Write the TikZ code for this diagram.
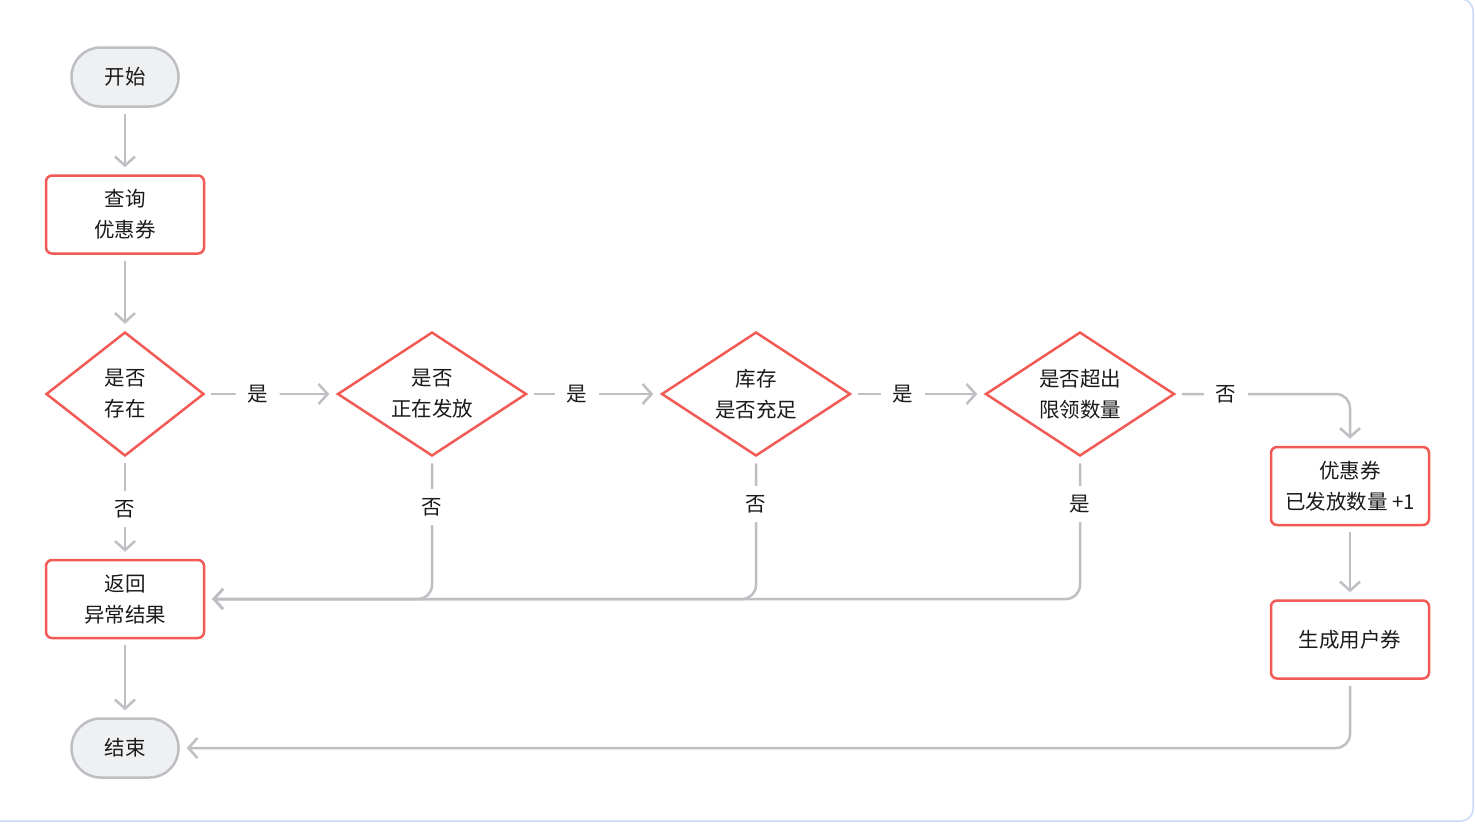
\documentclass[tikz,border=0pt]{standalone}
\usepackage{fontspec}
\setmainfont{Noto Sans CJK SC}
\usetikzlibrary{shapes.geometric,arrows.meta}
\definecolor{redline}{HTML}{F25A55}
\definecolor{grayline}{HTML}{BDBFC3}
\definecolor{termfill}{HTML}{EFF0F2}
\definecolor{txtcol}{HTML}{1A1A1A}
\definecolor{framecol}{HTML}{C9D8FA}
\begin{document}
\begin{tikzpicture}[x=1pt,y=-1pt,
  font=\fontsize{20.5}{31}\selectfont, text=txtcol,
  term/.style={draw=grayline, fill=termfill, line width=2.5pt, rounded corners=29pt, minimum width=107pt, minimum height=59pt, inner sep=0pt},
  proc/.style={draw=redline, line width=2.5pt, rounded corners=6pt, minimum width=158pt, minimum height=78pt, align=center, inner sep=0pt},
  dec/.style={draw=redline, line width=2.5pt, diamond, aspect=1.5, minimum width=#1, minimum height=124pt, align=center, inner sep=0pt},
  arr/.style={draw=grayline, line width=2.5pt, shorten <=6pt, shorten >=7pt, -{Straight Barb[length=9pt,width=20pt]}, rounded corners=14pt},
  lbl/.style={fill=white, inner sep=0pt, minimum width=44pt, minimum height=36pt},
]
\useasboundingbox (0,0) rectangle (1475,823);
\fill[white] (0,0) rectangle (1475,823);
\draw[framecol, line width=1.5pt, rounded corners=12pt] (-20,-1) rectangle (1473,821);

\node[term] (start) at (125,77) {开始};
\node[proc] (query) at (125,214.5) {查询\\优惠券};
\node[dec=158pt] (d1) at (125,394) {是否\\存在};
\node[dec=189pt] (d2) at (432,394) {是否\\正在发放};
\node[dec=189pt] (d3) at (756,394) {库存\\是否充足};
\node[dec=189pt] (d4) at (1080,394) {是否超出\\限领数量};
\node[proc] (inc) at (1350,486) {优惠券\\已发放数量 +1};
\node[proc] (gen) at (1350,639.5) {生成用户券};
\node[proc] (ret) at (125,599) {返回\\异常结果};
\node[term] (end) at (125,748) {结束};

\draw[arr] (start) -- (query);
\draw[arr] (query) -- (d1);
\draw[arr] (d1.east) -- node[lbl, pos=0.4] {是} (d2.west);
\draw[arr] (d2.east) -- node[lbl, pos=0.37] {是} (d3.west);
\draw[arr] (d3.east) -- node[lbl, pos=0.386] {是} (d4.west);
\draw[arr] (d4.east) -| node[lbl, pos=0.144] {否} (inc.north);
\draw[arr] (inc) -- (gen);
\draw[arr] (d1.south) -- node[lbl, pos=0.51] {否} (ret.north);
\draw[arr] (d2.south) |- node[lbl, pos=0.176] {否} (ret.east);
\draw[arr] (d3.south) |- node[lbl, pos=0.165] {否} (ret.east);
\draw[arr] (d4.south) |- node[lbl, pos=0.165] {是} (ret.east);
\draw[arr] (ret) -- (end);
\draw[arr] (gen.south) |- (end.east);
\end{tikzpicture}
\end{document}
